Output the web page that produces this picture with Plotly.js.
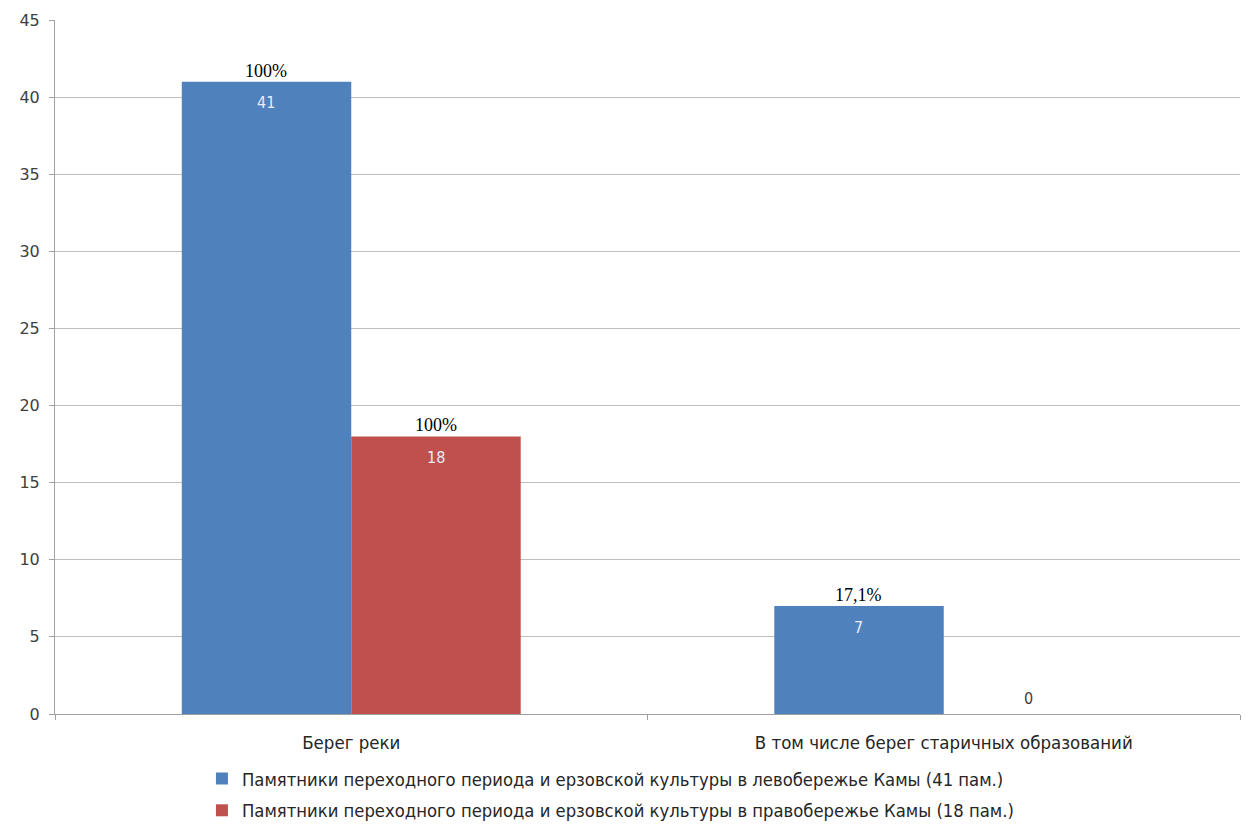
<!DOCTYPE html>
<html>
<head>
<meta charset="utf-8">
<script src="https://cdn.plot.ly/plotly-3.0.1.min.js"></script>
<style>html,body{margin:0;padding:0;background:#fff;}#chart{width:1248px;height:828px;}</style>
</head>
<body>
<div id="chart"></div>
<script>
const categories = ["Берег реки", "В том числе берег старичных образований"];
const seriesNames = [
  "Памятники переходного периода и ерзовской культуры в левобережье Камы (41 пам.)",
  "Памятники переходного периода и ерзовской культуры в правобережье Камы (18 пам.)"
];
const leftBank = [41, 7];
const rightBank = [18, 0];
const leftPct = ["100%", "17,1%"];
const rightPct = ["100%", ""];
const yTicks = [0, 5, 10, 15, 20, 25, 30, 35, 40, 45];

const colors = ["#4f81bd", "#c0504d"];
const series = [leftBank, rightBank];
const pcts = [leftPct, rightPct];
const condFont = "DejaVu Sans Condensed, Liberation Sans Narrow, sans-serif";

const traces = series.map((vals, i) => ({
  type: "bar",
  name: seriesNames[i],
  x: categories,
  y: vals,
  marker: {color: colors[i]},
  hoverinfo: "none",
  legendgroup: "g" + i
}));

const annotations = [];
const shift = [-85, 85];
series.forEach((vals, i) => {
  vals.forEach((v, j) => {
    if (v > 0) {
      annotations.push({x: categories[j], y: v, xref: "x", yref: "y", text: String(v),
        showarrow: false, xshift: shift[i], yshift: -21,
        font: {family: condFont, size: 16, color: "#e6edf7"}});
    } else {
      annotations.push({x: categories[j], y: v, xref: "x", yref: "y", text: String(v),
        showarrow: false, xshift: shift[i], yshift: 16,
        font: {family: condFont, size: 16, color: "#404040"}});
    }
    if (pcts[i][j]) {
      annotations.push({x: categories[j], y: v, xref: "x", yref: "y", text: pcts[i][j],
        showarrow: false, xshift: shift[i], yshift: 11,
        font: {family: "Liberation Serif, Times New Roman, serif", size: 18, color: "#000"}});
    }
  });
});

const layout = {
  width: 1248, height: 828,
  margin: {l: 55, r: 8, t: 20, b: 114},
  paper_bgcolor: "#fff", plot_bgcolor: "#fff",
  barmode: "group", bargap: 0.428, bargroupgap: 0,
  showlegend: true,
  legend: {orientation: "v", x: 0.124, xanchor: "left", yref: "container", y: 0.082, yanchor: "top",
    font: {family: condFont, size: 18.3, color: "#262626"},
    traceorder: "grouped", tracegroupgap: 5, itemwidth: 30},
  xaxis: {type: "category", tickson: "boundaries", ticks: "outside", ticklen: 5, tickcolor: "#a0a0a0",
    showline: true, linecolor: "#a0a0a0", linewidth: 1, showgrid: false, zeroline: false,
    ticklabelstandoff: 12,
    tickfont: {family: condFont, size: 18.5, color: "#262626"}},
  yaxis: {range: [0, 45], tickvals: yTicks, ticktext: yTicks.map(String), ticks: "outside", ticklen: 5,
    tickcolor: "#a0a0a0", showline: true, linecolor: "#a0a0a0", linewidth: 1,
    showgrid: true, gridcolor: "#bebebe", gridwidth: 1, zeroline: false, ticklabelstandoff: 6,
    tickfont: {family: "DejaVu Sans, Liberation Sans, sans-serif", size: 16, color: "#404040"}},
  annotations: annotations
};

Plotly.newPlot("chart", traces, layout, {displayModeBar: false, staticPlot: true});
</script>
</body>
</html>
